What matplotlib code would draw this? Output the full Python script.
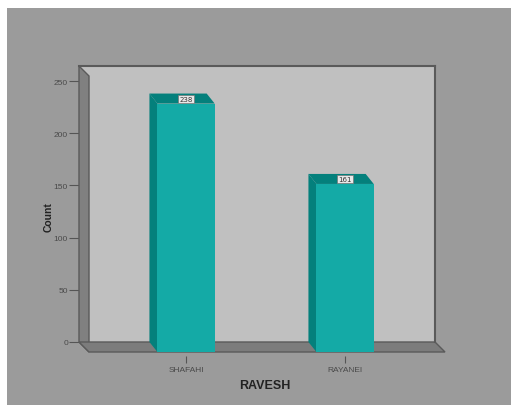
import matplotlib
matplotlib.use("Agg")
import matplotlib.pyplot as plt
from matplotlib.patches import Rectangle, Polygon

categories = ["SHAFAHI", "RAYANEI"]
counts = [238, 161]
yticks = [0, 50, 100, 150, 200, 250]
x_title = "RAVESH"
y_title = "Count"

W, H = 511, 406
fig = plt.figure(figsize=(W / 100, H / 100), dpi=100)
fig.patch.set_facecolor("white")
fig.add_artist(Rectangle((7 / W, 0), (W - 7) / W, (H - 9) / H, transform=fig.transFigure,
                         facecolor="#9b9b9b", edgecolor="none", zorder=-10))

# back wall = axes area
ax_l, ax_r, ax_t, ax_b = 79, 435, 67, 343
ax = fig.add_axes([ax_l / W, (H - ax_b) / H, (ax_r - ax_l) / W, (ax_b - ax_t) / H])
ax.set_facecolor("#c0c0c0")

xpos = list(range(len(categories)))
ax.set_xlim(-0.623, 1.616)
ax.set_ylim(0, 264.4)

# pixel -> data offset for depth
px_x = (ax_r - ax_l) / (1.616 + 0.623)
px_y = (ax_b - ax_t) / 264.4
wall_dx, wall_dy = 10 / px_x, 10 / px_y
bar_dx, bar_dy = 8 / px_x, 10 / px_y
x0, x1 = ax.get_xlim()
y0, y1 = ax.get_ylim()

edge = "#5a5a5a"
for s in ["top", "right"]:
    ax.spines[s].set_color(edge)
    ax.spines[s].set_linewidth(1.5)
ax.spines["left"].set_color("none")
ax.spines["bottom"].set_color("none")
ax.spines["bottom"].set_position(("outward", 10))

# left wall
ax.add_patch(Polygon([(x0, y1), (x0 + wall_dx, y1 - wall_dy), (x0 + wall_dx, y0 - wall_dy), (x0, y0)],
                     closed=True, facecolor="#808080", edgecolor=edge, lw=1, clip_on=False, zorder=2))
# floor
ax.add_patch(Polygon([(x0, y0), (x1, y0), (x1 + wall_dx, y0 - wall_dy), (x0 + wall_dx, y0 - wall_dy)],
                     closed=True, facecolor="#7c7c7c", edgecolor=edge, lw=1, clip_on=False, zorder=2))

w = 0.36
front_c = "#14aaa6"
dark_c = "#04807c"
for xi, v in zip(xpos, counts):
    l, r = xi - w / 2, xi + w / 2
    # left side
    ax.add_patch(Polygon([(l, v), (l + bar_dx, v - bar_dy), (l + bar_dx, -bar_dy), (l, 0)],
                         closed=True, facecolor=dark_c, edgecolor="none", clip_on=False, zorder=3))
    # top
    ax.add_patch(Polygon([(l, v), (r, v), (r + bar_dx, v - bar_dy), (l + bar_dx, v - bar_dy)],
                         closed=True, facecolor=dark_c, edgecolor="none", clip_on=False, zorder=3))
    # front
    ax.add_patch(Rectangle((l + bar_dx, -bar_dy), w, v, facecolor=front_c, edgecolor="none",
                           clip_on=False, zorder=4))
    ax.text(xi + bar_dx, v - bar_dy + 1.5, str(v), ha="center", va="bottom", fontsize=5,
            color="#333333", zorder=6,
            bbox=dict(boxstyle="square,pad=0.15", facecolor="#e8e8e8", edgecolor="#777777", lw=0.5))

ax.set_yticks(yticks)
ax.set_yticklabels([str(t) for t in yticks])
ax.set_xticks([xi + bar_dx for xi in xpos])
ax.set_xticklabels(categories)
ax.tick_params(axis="y", direction="out", length=7, width=0.8, color="#555555",
               labelsize=6, labelcolor="#4a4a4a", pad=1)
ax.tick_params(axis="x", direction="out", length=5, width=0.8, color="#555555",
               labelsize=6, labelcolor="#4a4a4a", pad=2)
for lab in ax.get_xticklabels():
    lab.set_family(["Liberation Sans Narrow", "Liberation Sans", "DejaVu Sans"])
for lab in ax.get_yticklabels():
    lab.set_family(["Liberation Sans", "DejaVu Sans"])

fig.text(265 / W, 1 - 386 / H, x_title, ha="center", va="center", fontsize=9, fontweight="bold",
         color="#222222", family=["Liberation Sans", "DejaVu Sans"])
fig.text(49 / W, 1 - 217 / H, y_title, ha="center", va="center", rotation=90, fontsize=7.5,
         fontweight="bold", color="#222222", family=["Liberation Sans", "DejaVu Sans"])

fig.savefig("out.png", dpi=100, facecolor=fig.get_facecolor())
